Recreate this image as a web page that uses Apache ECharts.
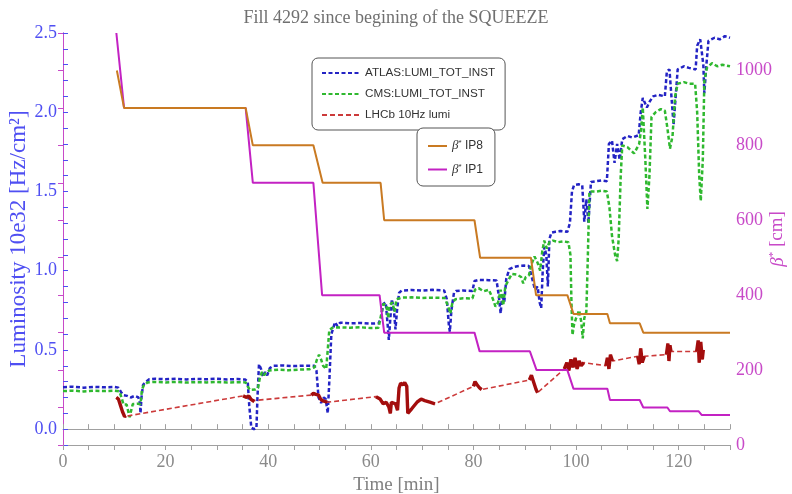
<!DOCTYPE html>
<html>
<head>
<meta charset="utf-8">
<script src="https://cdn.jsdelivr.net/npm/echarts@6/dist/echarts.min.js"></script>
<style>
  html, body { margin: 0; padding: 0; background: #fff; }
  #chart { width: 792px; height: 494px; }
</style>
</head>
<body>
<div id="chart"></div>
<script>
// Time in minutes since the start of the squeeze, luminosity in 10e32 Hz/cm^2
const atlasLumi = [
  [0,0.265],[2,0.268],[4,0.262],[6,0.267],[8,0.264],[10,0.266],[10.8,0.262],[11.3,0.235],[11.8,0.215],
  [12.5,0.21],[13.2,0.2],[14,0.21],[14.7,0.2],[15.0,0.16],[15.1,0.10],[15.3,0.2],[15.6,0.28],[16.2,0.30],
  [16.8,0.315],[18,0.318],[20,0.315],[22,0.318],[24,0.314],[26,0.317],[28,0.315],[30,0.318],[32,0.314],
  [34,0.316],[35.5,0.313],[36.0,0.30],[36.3,0.15],[36.7,0.01],[37.2,0.0],[37.7,0.005],[37.9,0.2],
  [38.2,0.41],[38.6,0.38],[39.0,0.33],[39.4,0.36],[39.8,0.34],[40.3,0.385],[41,0.40],[43,0.402],
  [45,0.398],[47,0.401],[49.0,0.40],[49.4,0.37],[49.8,0.2],[50.3,0.165],[50.8,0.2],[51.2,0.19],
  [51.6,0.10],[51.9,0.3],[52.3,0.6],[52.7,0.64],[53.0,0.675],[53.5,0.65],[54,0.672],[56,0.668],
  [58,0.67],[60,0.666],[61.5,0.668],[62.0,0.70],[62.4,0.79],[62.9,0.80],[63.3,0.65],[63.5,0.563],
  [63.8,0.7],[64.1,0.82],[64.5,0.75],[64.8,0.63],[65.1,0.75],[65.5,0.86],[66,0.875],[68,0.878],
  [70,0.874],[72,0.879],[74.3,0.875],[74.8,0.82],[75.2,0.66],[75.4,0.615],[75.7,0.75],[76.2,0.86],
  [76.6,0.872],[78,0.875],[79.8,0.872],[80.2,0.935],[81,0.942],[83,0.94],[84.5,0.938],[84.9,0.85],
  [85.3,0.73],[85.6,0.85],[86,0.8],[86.4,0.95],[87,1.01],[88,1.025],[89,1.03],[90,1.032],[90.8,1.03],
  [91.2,0.98],[91.6,0.93],[92.0,0.88],[92.5,0.9],[92.9,0.8],[93.2,0.763],[93.5,1.0],[93.8,1.15],
  [94.2,1.1],[94.5,0.9],[94.8,1.2],[95.2,1.24],[96,1.246],[97,1.25],[98.3,1.245],[98.8,1.3],
  [99.2,1.5],[99.6,1.54],[100.5,1.545],[101.2,1.54],[101.6,1.31],[102.0,1.45],[102.4,1.30],
  [102.9,1.56],[104,1.565],[105,1.57],[106.0,1.565],[106.4,1.80],[107,1.82],[107.5,1.68],[108.0,1.80],
  [108.5,1.70],[109,1.83],[110,1.85],[111,1.84],[112.2,1.855],[112.6,2.0],[113,2.09],[113.8,2.03],
  [114.4,2.07],[115,2.10],[116,2.11],[117.3,2.10],[117.7,2.26],[118.2,2.27],[118.7,2.05],[119.0,1.92],
  [119.3,2.05],[119.8,2.27],[121,2.29],[122,2.28],[123.3,2.27],[123.6,2.42],[124.2,2.46],[124.8,2.3],
  [125.0,2.12],[125.4,2.3],[125.8,2.45],[127,2.47],[128,2.46],[129,2.48],[130,2.47]
];
const cmsLumi = [
  [0,0.24],[2,0.243],[4,0.238],[6,0.242],[8,0.24],[10,0.243],[11.0,0.238],[11.4,0.20],[11.8,0.155],
  [12.4,0.155],[12.8,0.10],[13.0,0.075],[13.3,0.12],[13.6,0.158],[14.5,0.16],[15.1,0.158],[15.4,0.25],
  [15.8,0.28],[16.5,0.295],[18,0.298],[20,0.295],[22,0.298],[24,0.294],[26,0.297],[28,0.295],[30,0.298],
  [32,0.294],[34,0.296],[35.6,0.295],[36.0,0.27],[36.4,0.248],[37.5,0.25],[38.0,0.26],[38.4,0.33],
  [38.8,0.36],[39.2,0.34],[39.6,0.36],[40.2,0.37],[42,0.375],[44,0.372],[46,0.376],[48,0.378],
  [49.0,0.39],[49.5,0.44],[49.9,0.47],[50.3,0.44],[50.7,0.40],[51.0,0.405],[51.3,0.38],[51.6,0.50],
  [51.9,0.626],[52.5,0.64],[54,0.642],[56,0.64],[58,0.643],[60,0.638],[61.5,0.64],[62.0,0.72],
  [62.4,0.79],[63,0.785],[63.4,0.7],[63.6,0.78],[64.2,0.80],[64.6,0.74],[65.0,0.82],[66,0.83],
  [68,0.832],[70,0.828],[72,0.83],[74.4,0.828],[75.0,0.78],[75.5,0.73],[75.9,0.80],[76.5,0.82],
  [78,0.826],[79.8,0.825],[80.3,0.88],[81,0.89],[82,0.87],[83,0.88],[83.8,0.82],[84.3,0.773],
  [84.8,0.80],[85.3,0.88],[85.8,0.78],[86.2,0.90],[86.8,0.94],[87.5,0.98],[88.5,0.975],[89.3,0.96],
  [89.7,0.92],[90.2,0.96],[90.8,0.97],[91.3,1.04],[91.9,1.09],[92.5,1.05],[93.0,1.00],[93.4,1.12],
  [93.8,1.19],[94.3,1.14],[94.8,1.18],[95.5,1.19],[96.5,1.18],[97.5,1.185],[98.5,1.18],[98.9,1.10],
  [99.1,0.80],[99.3,0.594],[99.6,0.66],[100.0,0.70],[100.6,0.75],[101.0,0.68],[101.3,0.573],
  [101.6,0.70],[102.0,0.74],[102.3,1.10],[102.6,1.50],[104,1.50],[105,1.505],[106.0,1.50],
  [106.5,1.40],[107.0,1.22],[107.6,1.10],[108.0,1.06],[108.3,1.20],[108.7,1.60],[109.0,1.79],
  [110,1.78],[111.3,1.74],[112.3,1.80],[112.7,1.90],[113.0,2.03],[113.5,1.70],[113.9,1.39],
  [114.3,1.60],[114.7,1.97],[115.5,2.00],[116.5,2.02],[117.3,2.01],[117.8,1.90],[118.3,1.77],
  [118.8,1.85],[119.3,2.10],[119.8,2.18],[121,2.19],[122,2.18],[123.2,2.18],[123.6,2.00],[124.0,1.60],
  [124.3,1.44],[124.7,1.70],[125.0,2.20],[125.5,2.28],[126.5,2.31],[127.5,2.29],[128.5,2.30],[130,2.29]
];
// LHCb 10 Hz lumi: bursts of samples, joined by the dashed trace
const lhcbLumi = [
  [10.4,0.20],[10.8,0.19],[11.2,0.15],[11.6,0.11],[12.0,0.08],[12.3,0.085],
  [35.1,0.21],[35.4,0.215],[35.8,0.20],[36.2,0.21],[36.6,0.19],[37.0,0.18],[37.3,0.175],
  [48.4,0.215],[48.8,0.226],[49.3,0.22],[49.8,0.215],[50.2,0.19],[50.6,0.18],[51.0,0.175],[51.5,0.17],
  [61.0,0.205],[61.8,0.19],[62.4,0.16],[63.0,0.17],[63.5,0.14],[63.8,0.10],[64.0,0.17],[64.8,0.16],
  [65.2,0.12],[65.5,0.26],[65.8,0.29],[66.3,0.28],[66.6,0.295],[67.0,0.27],[67.2,0.10],[67.4,0.09],
  [68.0,0.13],[69.0,0.17],[69.8,0.19],[70.5,0.18],[71.5,0.17],[72.5,0.16],
  [80.0,0.27],[80.3,0.30],[80.7,0.28],[81.2,0.26],[81.6,0.25],
  [90.9,0.31],[91.3,0.34],[91.8,0.29],[92.2,0.25],[92.5,0.23],
  [97.7,0.38],[98.2,0.42],[98.6,0.37],[99.0,0.44],[99.4,0.39],[99.8,0.45],[100.2,0.38],[100.6,0.43],
  [101.0,0.40],[101.5,0.42],
  [105.8,0.40],[106.1,0.45],[106.4,0.38],[106.7,0.47],[107.1,0.43],
  [112.0,0.46],[112.3,0.41],[112.6,0.51],[112.9,0.42],[113.3,0.46],
  [117.6,0.47],[117.9,0.54],[118.1,0.43],[118.3,0.53],[118.5,0.49],
  [123.5,0.49],[123.8,0.56],[124.0,0.42],[124.3,0.55],[124.6,0.44],[124.8,0.50]
];
// beta* in cm at the two interaction points
const betaIP8 = [
  [10.5,1000],[11.9,900],[35.6,900],[37.0,800],[48.8,800],[50.6,700],[61.9,700],[62.6,600],
  [80.2,600],[81.3,500],[91.2,500],[92.2,400],[98.3,400],[99.5,350],[106.1,350],[106.6,325],
  [112.4,325],[113.1,300],[130,300]
];
const betaIP1 = [
  [10.4,1100],[11.9,900],[35.6,900],[37.0,700],[48.8,700],[50.5,400],[61.7,400],[62.6,300],
  [80.2,300],[81.2,250],[91.0,250],[92.3,200],[98.3,200],[99.5,150],[106.1,150],[106.6,120],
  [112.4,120],[113.1,100],[117.8,100],[118.3,90],[123.9,90],[124.5,80],[130,80]
];
const timeTicks = [0, 20, 40, 60, 80, 100, 120];
const lumiTicks = [0, 0.5, 1.0, 1.5, 2.0, 2.5];
const betaTicks = [0, 200, 400, 600, 800, 1000];

const SERIF = 'Liberation Serif';
const SANS = 'Liberation Sans';
const C_ATLAS = '#2323c4';
const C_CMS = '#2fb82f';
const C_LHCB = '#cc3a3a';
const C_LHCB_DENSE = '#a30d0d';
const C_IP8 = '#c97a22';
const C_IP1 = '#c322c3';
const C_LEFT = '#4f4ff2';
const C_RIGHT = '#c84ac8';
const C_FRAME = '#a0a0a0';

const near = (v, list) => list.some(t => Math.abs(t - v) < 1e-6);

// LHCb bursts only (gaps > 2 min broken with nulls) for the dense solid overlay
const lhcbBursts = [];
lhcbLumi.forEach((p, i) => {
  if (i > 0 && p[0] - lhcbLumi[i - 1][0] > 2) lhcbBursts.push([null, null]);
  lhcbBursts.push(p);
});

const chart = echarts.init(document.getElementById('chart'), null, { renderer: 'canvas' });

const frameAxis = (color, extra) => Object.assign({
  axisLine: { show: true, lineStyle: { color: color, width: 1 } },
  axisTick: { show: true, inside: true, length: 5, lineStyle: { color: color } },
  splitLine: { show: false }
}, extra);

chart.setOption({
  animation: false,
  backgroundColor: '#ffffff',
  title: {
    text: 'Fill 4292 since begining of the SQUEEZE',
    left: 'center', top: 4,
    textStyle: { fontFamily: SERIF, fontSize: 18, fontWeight: 'normal', color: '#707070' }
  },
  grid: { left: 63, right: 62, top: 33, bottom: 49, containLabel: false, outerBoundsMode: 'none' },
  legend: [
    {
      data: ['ATLAS:LUMI_TOT_INST', 'CMS:LUMI_TOT_INST', 'LHCb 10Hz lumi'],
      orient: 'vertical', left: 312, top: 58,
      itemWidth: 38, itemHeight: 10, itemGap: 9,
      padding: [9, 10, 9, 9],
      borderColor: '#555', borderWidth: 1, borderRadius: 6,
      backgroundColor: '#fff',
      itemStyle: { opacity: 0 },
      textStyle: { fontFamily: SANS, fontSize: 11.7, color: '#333' }
    },
    {
      data: ['IP8', 'IP1'],
      orient: 'vertical', left: 417, top: 128,
      itemWidth: 19, itemHeight: 10, itemGap: 10,
      padding: [11, 12, 10, 10],
      borderColor: '#555', borderWidth: 1, borderRadius: 6,
      backgroundColor: '#fff',
      itemStyle: { opacity: 0 },
      formatter: n => '{b|β}{s|*} ' + n,
      textStyle: {
        fontFamily: SANS, fontSize: 12, color: '#333',
        rich: {
          b: { fontFamily: SERIF, fontStyle: 'italic', fontSize: 13, color: '#333' },
          s: { fontFamily: SANS, fontSize: 8, color: '#333', verticalAlign: 'top', padding: [0, 0, 6, 0] }
        }
      }
    }
  ],
  xAxis: [
    frameAxis(C_FRAME, {
      type: 'value', position: 'bottom', min: 0, max: 130, interval: 5,
      axisLabel: {
        color: '#8a8a8a', fontFamily: SERIF, fontSize: 18, margin: 8,
        formatter: v => near(v, timeTicks) ? String(v) : ''
      },
      name: 'Time [min]', nameLocation: 'middle', nameGap: 29,
      nameTextStyle: { color: '#808080', fontFamily: SERIF, fontSize: 19, verticalAlign: 'top' }
    }),
    frameAxis(C_FRAME, {
      type: 'value', position: 'top', min: 0, max: 130, interval: 5,
      axisLabel: { show: false }
    })
  ],
  yAxis: [
    frameAxis(C_LEFT, {
      type: 'value', position: 'left', min: -0.1, max: 2.5, interval: 0.1,
      axisLabel: {
        color: C_LEFT, fontFamily: SERIF, fontSize: 18, margin: 6,
        formatter: v => near(v, lumiTicks) ? v.toFixed(1) : ''
      },
      name: 'Luminosity 10e32 [Hz/cm²]', nameLocation: 'middle', nameGap: 33, nameRotate: 90,
      nameMoveOverlap: false,
      nameTextStyle: { color: C_LEFT, fontFamily: SERIF, fontSize: 23 }
    }),
    frameAxis(C_RIGHT, {
      type: 'value', position: 'right', min: 0, max: 1100, interval: 100,
      axisLabel: {
        color: C_RIGHT, fontFamily: SERIF, fontSize: 18, margin: 6,
        formatter: v => near(v, betaTicks) ? String(v) : ''
      },
      name: '{b|β}{s|*} [cm]', nameLocation: 'middle', nameGap: 38, nameRotate: 90,
      nameMoveOverlap: false,
      nameTextStyle: {
        color: C_RIGHT, fontFamily: SERIF, fontSize: 19,
        rich: {
          b: { fontFamily: SERIF, fontStyle: 'italic', fontSize: 19, color: C_RIGHT },
          s: { fontFamily: SERIF, fontSize: 11, color: C_RIGHT, verticalAlign: 'top', padding: [0, 0, 8, 0] }
        }
      }
    })
  ],
  series: [
    {
      name: 'ATLAS:LUMI_TOT_INST', type: 'line', xAxisIndex: 0, yAxisIndex: 0,
      data: atlasLumi, symbol: 'none', z: 4,
      lineStyle: { color: C_ATLAS, width: 2.5, type: [4, 2.5] },
      itemStyle: { color: C_ATLAS }
    },
    {
      name: 'CMS:LUMI_TOT_INST', type: 'line', xAxisIndex: 0, yAxisIndex: 0,
      data: cmsLumi, symbol: 'none', z: 5,
      lineStyle: { color: C_CMS, width: 2.5, type: [4, 2.5] },
      itemStyle: { color: C_CMS }
    },
    {
      name: 'LHCb 10Hz lumi', type: 'line', xAxisIndex: 0, yAxisIndex: 0,
      data: lhcbLumi, symbol: 'none', z: 6,
      lineStyle: { color: C_LHCB, width: 1.6, type: [5, 3] },
      itemStyle: { color: C_LHCB }
    },
    {
      name: 'LHCb bursts', type: 'line', xAxisIndex: 0, yAxisIndex: 0,
      data: lhcbBursts, symbol: 'none', z: 6, connectNulls: false,
      lineStyle: { color: C_LHCB_DENSE, width: 3.4 },
      itemStyle: { color: C_LHCB_DENSE }
    },
    {
      name: 'IP1', type: 'line', xAxisIndex: 0, yAxisIndex: 1,
      data: betaIP1, symbol: 'none', z: 7,
      lineStyle: { color: C_IP1, width: 2 },
      itemStyle: { color: C_IP1 }
    },
    {
      name: 'IP8', type: 'line', xAxisIndex: 0, yAxisIndex: 1,
      data: betaIP8, symbol: 'none', z: 8,
      lineStyle: { color: C_IP8, width: 2 },
      itemStyle: { color: C_IP8 }
    }
  ]
});
</script>
</body>
</html>
